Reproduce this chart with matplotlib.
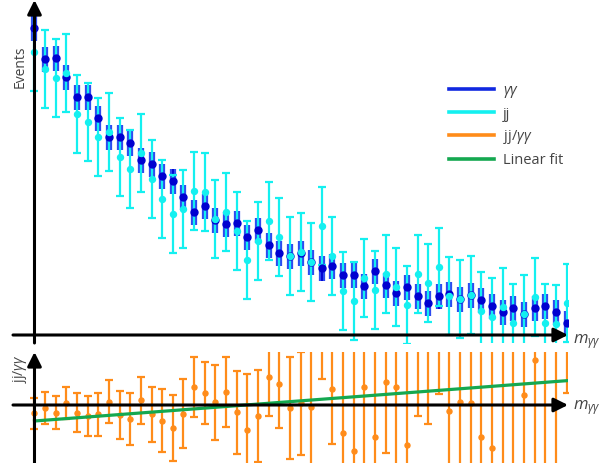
import numpy as np
import matplotlib.pyplot as plt
from matplotlib.lines import Line2D

plt.rcParams["font.family"] = ["Open Sans", "DejaVu Sans"]
plt.rcParams["mathtext.fontset"] = "custom"
plt.rcParams["mathtext.rm"] = "Open Sans"
plt.rcParams["mathtext.it"] = "Open Sans:italic"
plt.rcParams["mathtext.bf"] = "Open Sans:bold"

# bin index along m_gg
bins = np.arange(51)

# gamma-gamma events (blue)
gg = [307, 276, 277, 258, 238, 238, 217, 198, 198, 192,
      175, 171, 159, 154, 138, 123, 129, 115, 111, 112,
      98, 105, 90, 82, 79, 82, 73, 67, 69, 60,
      60, 49, 64, 50, 42, 48, 39, 32, 39, 41,
      36, 40, 35, 29, 23, 27, 21, 27, 29, 23, 12]
gg_err = 12.5

# jj events (cyan)
jj = [283, 266, 257, 262, 221, 213, 198, 203, 178, 166,
      182, 156, 136, 121, 126, 144, 143, 116, 123, 104,
      75, 94, 114, 98, 79, 83, 73, 109, 79, 44,
      34, 57, 45, 61, 48, 30, 61, 52, 68, 39,
      36, 40, 24, 18, 28, 12, 21, 38, 12, 11, 32]
jj_err = 39

# jj / gamma-gamma ratio (orange)
ratio = [-8.3, -3.3, -7.7, 2.3, -7.7, -11, -9.3, 3.3, -10, -14,
         4.7, -9.3, -15.7, -22.7, -8.7, 18.3, 11.7, 2.7, 13, -7.3,
         -25, -11, 27.7, 21.3, -3, 1.7, -2.3, 80, 15.7, -28.3,
         -46, 18.3, -31.7, 23.3, 18, -40, 70, 70, 90, -6,
         3.3, 1.7, -32.3, -42.7, -75, 75, 10.3, 45, -80, 80, 100]
ratio_err = [15.3, 16, 16.5, 16, 19.5, 20, 21.7, 21.3, 24, 26,
             23.7, 27.5, 31.7, 33, 34.5, 30, 31, 37.3, 35, 41.7,
             56.5, 46, 38.4, 44, 51, 51.7, 62, 54.3, 55, 85,
             105, 80, 90, 71.6, 82, 100, 80.7, 89, 78.7, 90,
             95, 95, 100, 105, 135, 140, 110, 115, 140, 145, 87.7]

# linear fit end points
fit_x = [0, 50]
fit_y = [-16, 24.3]

c_band = "#2d4bf0"
c_blue = "#0000d0"
c_cyan = "#14f0f0"
c_orange = "#ff8c1a"
c_green = "#14a850"
c_text = "#444444"

fig = plt.figure(figsize=(6, 4.63), dpi=100)
H = 463.0
ax = fig.add_axes([13 / 600, (H - 343) / H, 555 / 600, 343 / H])
ax2 = fig.add_axes([13 / 600, 0, 555 / 600, (H - 352) / H])

xlim = (-2.02, 50.14)

# top panel
ax.errorbar(bins, gg, yerr=gg_err, fmt="none", ecolor=c_band, elinewidth=4.5, zorder=2)
ax.vlines(bins, np.array(gg) - gg_err, np.array(gg) + gg_err, color=c_blue, lw=1.3, zorder=2.5)
ax.errorbar(bins, jj, yerr=jj_err, fmt="none", ecolor=c_cyan, elinewidth=1.6,
            capsize=3, capthick=1.6, zorder=3)
ax.plot(bins, gg, "o", color=c_blue, ms=5, zorder=4)
ax.plot(bins, jj, "o", color=c_cyan, ms=4.3, zorder=5)
ax.set_xlim(*xlim)
ax.set_ylim(-8, 335)
ax.axis("off")

# bottom panel
ax2.errorbar(bins, ratio, yerr=ratio_err, fmt="o", color=c_orange, ms=3.6,
             elinewidth=1.6, capsize=3, capthick=1.6, zorder=2)
ax2.plot(fit_x, fit_y, color=c_green, lw=2.3, zorder=3)
ax2.set_xlim(*xlim)
ax2.set_ylim(-58, 53)
ax2.axis("off")

arrow = dict(arrowstyle="-|>,head_length=0.7,head_width=0.35", lw=2.2,
             color="black", shrinkA=0, shrinkB=0, mutation_scale=12)
for a in (ax, ax2):
    a.annotate("", xy=(1, 0), xytext=(0, 0), xycoords=a.get_yaxis_transform(),
               arrowprops=arrow, annotation_clip=False, zorder=10)
    a.annotate("", xy=(0, 1), xytext=(0, 0), xycoords=a.get_xaxis_transform(),
               arrowprops=arrow, annotation_clip=False, zorder=10)

# labels
fig.text(20 / 600, 1 - 67 / H, "Events", rotation=90, ha="center", va="center",
         fontsize=10, color=c_text)
fig.text(20 / 600, 1 - 369 / H, r"jj/$\gamma\gamma$", rotation=90, ha="center",
         va="center", fontsize=10, color=c_text)
fig.text(573 / 600, 1 - 342 / H, r"$m_{\gamma\gamma}$", ha="left", va="center",
         fontsize=12, color=c_text)
fig.text(573 / 600, 1 - 408 / H, r"$m_{\gamma\gamma}$", ha="left", va="center",
         fontsize=12, color=c_text)

handles = [Line2D([], [], color="#1028e0", lw=2.6),
           Line2D([], [], color=c_cyan, lw=2.6),
           Line2D([], [], color=c_orange, lw=2.6),
           Line2D([], [], color=c_green, lw=2.6)]
labels = [r"$\gamma\gamma$", "jj", r"jj/$\gamma\gamma$", "Linear fit"]
leg = fig.legend(handles, labels, loc="upper left", bbox_to_anchor=(449 / 600, 1 - 83 / H),
                 frameon=False, fontsize=10.5, borderpad=0, borderaxespad=0,
                 handlelength=3.1, handletextpad=0.6, labelspacing=0.45)
for t in leg.get_texts():
    t.set_color(c_text)

fig.savefig("out.png", dpi=100)
